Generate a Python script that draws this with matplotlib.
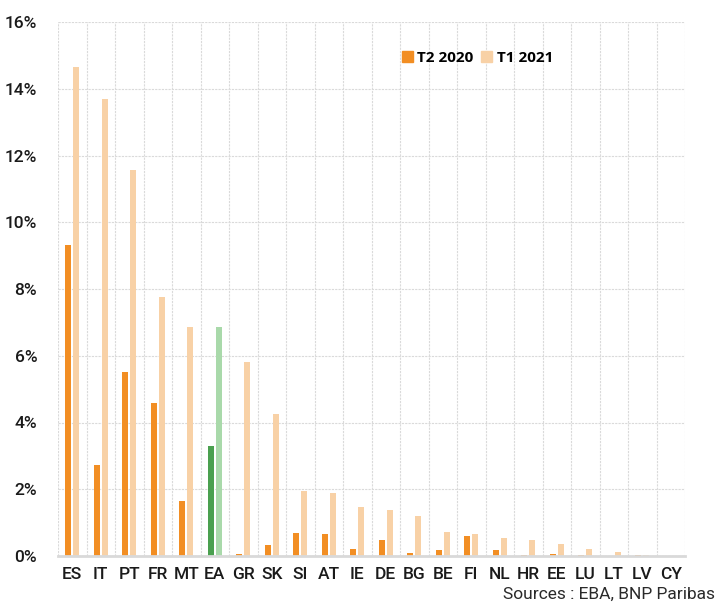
import matplotlib
matplotlib.use("Agg")
import matplotlib.pyplot as plt
import numpy as np
from matplotlib.ticker import FuncFormatter, MultipleLocator
from matplotlib.patches import Patch

countries = ["ES", "IT", "PT", "FR", "MT", "EA", "GR", "SK", "SI", "AT", "IE",
             "DE", "BG", "BE", "FI", "NL", "HR", "EE", "LU", "LT", "LV", "CY"]
t2_2020 = [9.33, 2.72, 5.52, 4.58, 1.66, 3.31, 0.05, 0.34, 0.69, 0.67, 0.22,
           0.49, 0.10, 0.18, 0.61, 0.18, 0.03, 0.05, 0.02, 0.00, 0.02, 0.00]
t1_2021 = [14.66, 13.68, 11.57, 7.77, 6.87, 6.87, 5.82, 4.26, 1.96, 1.88, 1.48,
           1.37, 1.19, 0.71, 0.66, 0.54, 0.49, 0.37, 0.20, 0.13, 0.03, 0.00]
series_names = ["T2 2020", "T1 2021"]

c_dark = "#F28E23"
c_light = "#F8D1A6"
g_dark = "#4AA04F"
g_light = "#A9D9AA"

plt.rcParams['font.family'] = ['Roboto', 'DejaVu Sans']

fig = plt.figure(figsize=(7.19, 6.10), dpi=100)
n = len(countries)
x = np.arange(n)
left = 58 / 719
right = 685 / 719
ax = fig.add_axes([left, 54 / 610, right - left, (556 - 22) / 610])

w = 0.22
off = 0.14
cols1 = [g_dark if c == "EA" else c_dark for c in countries]
cols2 = [g_light if c == "EA" else c_light for c in countries]
ax.bar(x - off, t2_2020, width=w, color=cols1, zorder=3)
ax.bar(x + off, t1_2021, width=w, color=cols2, zorder=3)

ax.set_xlim(-0.5, n - 0.5)
ax.set_ylim(0, 16)
ax.yaxis.set_major_locator(MultipleLocator(2))
ax.yaxis.set_major_formatter(FuncFormatter(lambda v, p: f"{v:.0f}%"))
ax.set_xticks(x)
ax.set_xticklabels(countries)
ax.set_xticks(np.arange(-0.5, n, 1.0), minor=True)

gc = '#dadada'
ax.grid(axis='y', which='major', color=gc, linestyle=(0, (2, 1)), linewidth=0.8, zorder=0)
ax.grid(axis='x', which='minor', color=gc, linestyle=(0, (2, 1)), linewidth=0.8, zorder=0)
ax.grid(axis='x', which='major', visible=False)

for s in ['left', 'top', 'right']:
    ax.spines[s].set_visible(False)
ax.spines['bottom'].set_color('#d9d9d9')
ax.spines['bottom'].set_linewidth(2)
ax.spines['bottom'].set_zorder(4)

ax.tick_params(axis='both', which='both', length=0)
ax.tick_params(axis='x', which='major', pad=8, labelsize=12.5, labelcolor='#1a1a1a')
ax.tick_params(axis='y', which='major', pad=15, labelsize=12.5, labelcolor='#1a1a1a')
for lab in ax.get_xticklabels() + ax.get_yticklabels():
    lab.set_fontweight('medium')

handles = [Patch(color=c_dark, label=series_names[0]), Patch(color=c_light, label=series_names[1])]
leg = ax.legend(handles=handles, loc='upper left', bbox_to_anchor=(0.527, 0.972),
                frameon=False, ncol=2, handlelength=0.7, handleheight=0.7,
                handletextpad=0.3, columnspacing=0.5,
                prop={'family': ['Open Sans', 'DejaVu Sans'], 'weight': 'bold', 'size': 11})

fig.text(715 / 719, 8 / 610, "Sources : EBA, BNP Paribas", ha='right', va='bottom',
         fontsize=12.5, color='#2a2a2a', fontweight='normal')

fig.savefig("out.png", dpi=100)
